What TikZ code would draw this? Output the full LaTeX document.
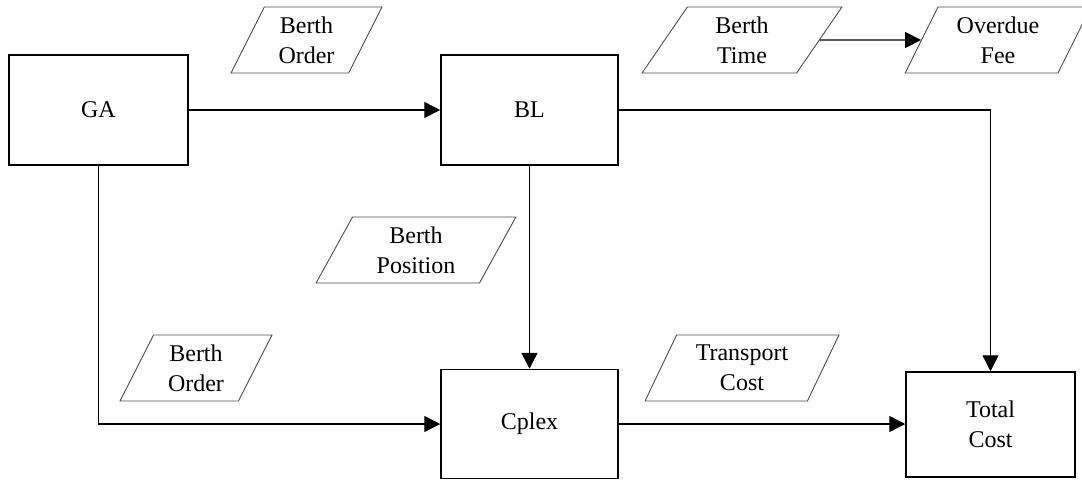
\documentclass[tikz,border=0pt]{standalone}
\usepackage{fontspec}
\setmainfont{Liberation Serif}
\usetikzlibrary{shapes.geometric,arrows.meta}
\begin{document}
\begin{tikzpicture}[x=1pt,y=-1pt,
  box/.style={draw=black,line width=1.5pt,rectangle,inner sep=0pt,align=center,
    font=\fontsize{24}{30}\selectfont},
  para/.style={draw=black!70,line width=0.9pt,trapezium,trapezium left angle=65,
    trapezium right angle=115,trapezium stretches=true,minimum height=66pt,
    inner sep=2pt,align=center,font=\fontsize{24}{30}\selectfont},
  conn/.style={line width=1.4pt,-{Triangle[length=16pt,width=16pt]}}]
\useasboundingbox (0,0) rectangle (1082,480);
\node[box,minimum width=179pt,minimum height=110pt] (ga) at (98.5,110) {GA};
\node[box,minimum width=177pt,minimum height=110pt] (bl) at (529.5,110) {BL};
\node[box,minimum width=177pt,minimum height=109pt] (cplex) at (529.5,424) {Cplex};
\node[box,minimum width=169pt,minimum height=105pt] (total) at (990.5,424.5) {Total\\Cost};
\node[para,minimum width=151pt] (bo1) at (306.5,40) {Berth\\Order};
\node[para,minimum width=200pt] (bt) at (742,40) {Berth\\Time};
\node[para,minimum width=186pt] (of) at (998,40) {Overdue\\Fee};
\node[para,minimum width=200pt] (bp) at (416,250) {Berth\\Position};
\node[para,minimum width=152pt] (bo2) at (196,368) {Berth\\Order};
\node[para,minimum width=194pt] (tc) at (742,368) {Transport\\Cost};
\draw[conn] (ga) -- (bl);
\draw[conn] (ga.south) |- (cplex.west);
\draw[conn] (bl) -- (cplex);
\draw[conn] (bl.east) -| (total.north);
\draw[conn] (cplex.east) -- (cplex.east -| total.west);
\draw[conn] (bt) -- (of);
\end{tikzpicture}
\end{document}
